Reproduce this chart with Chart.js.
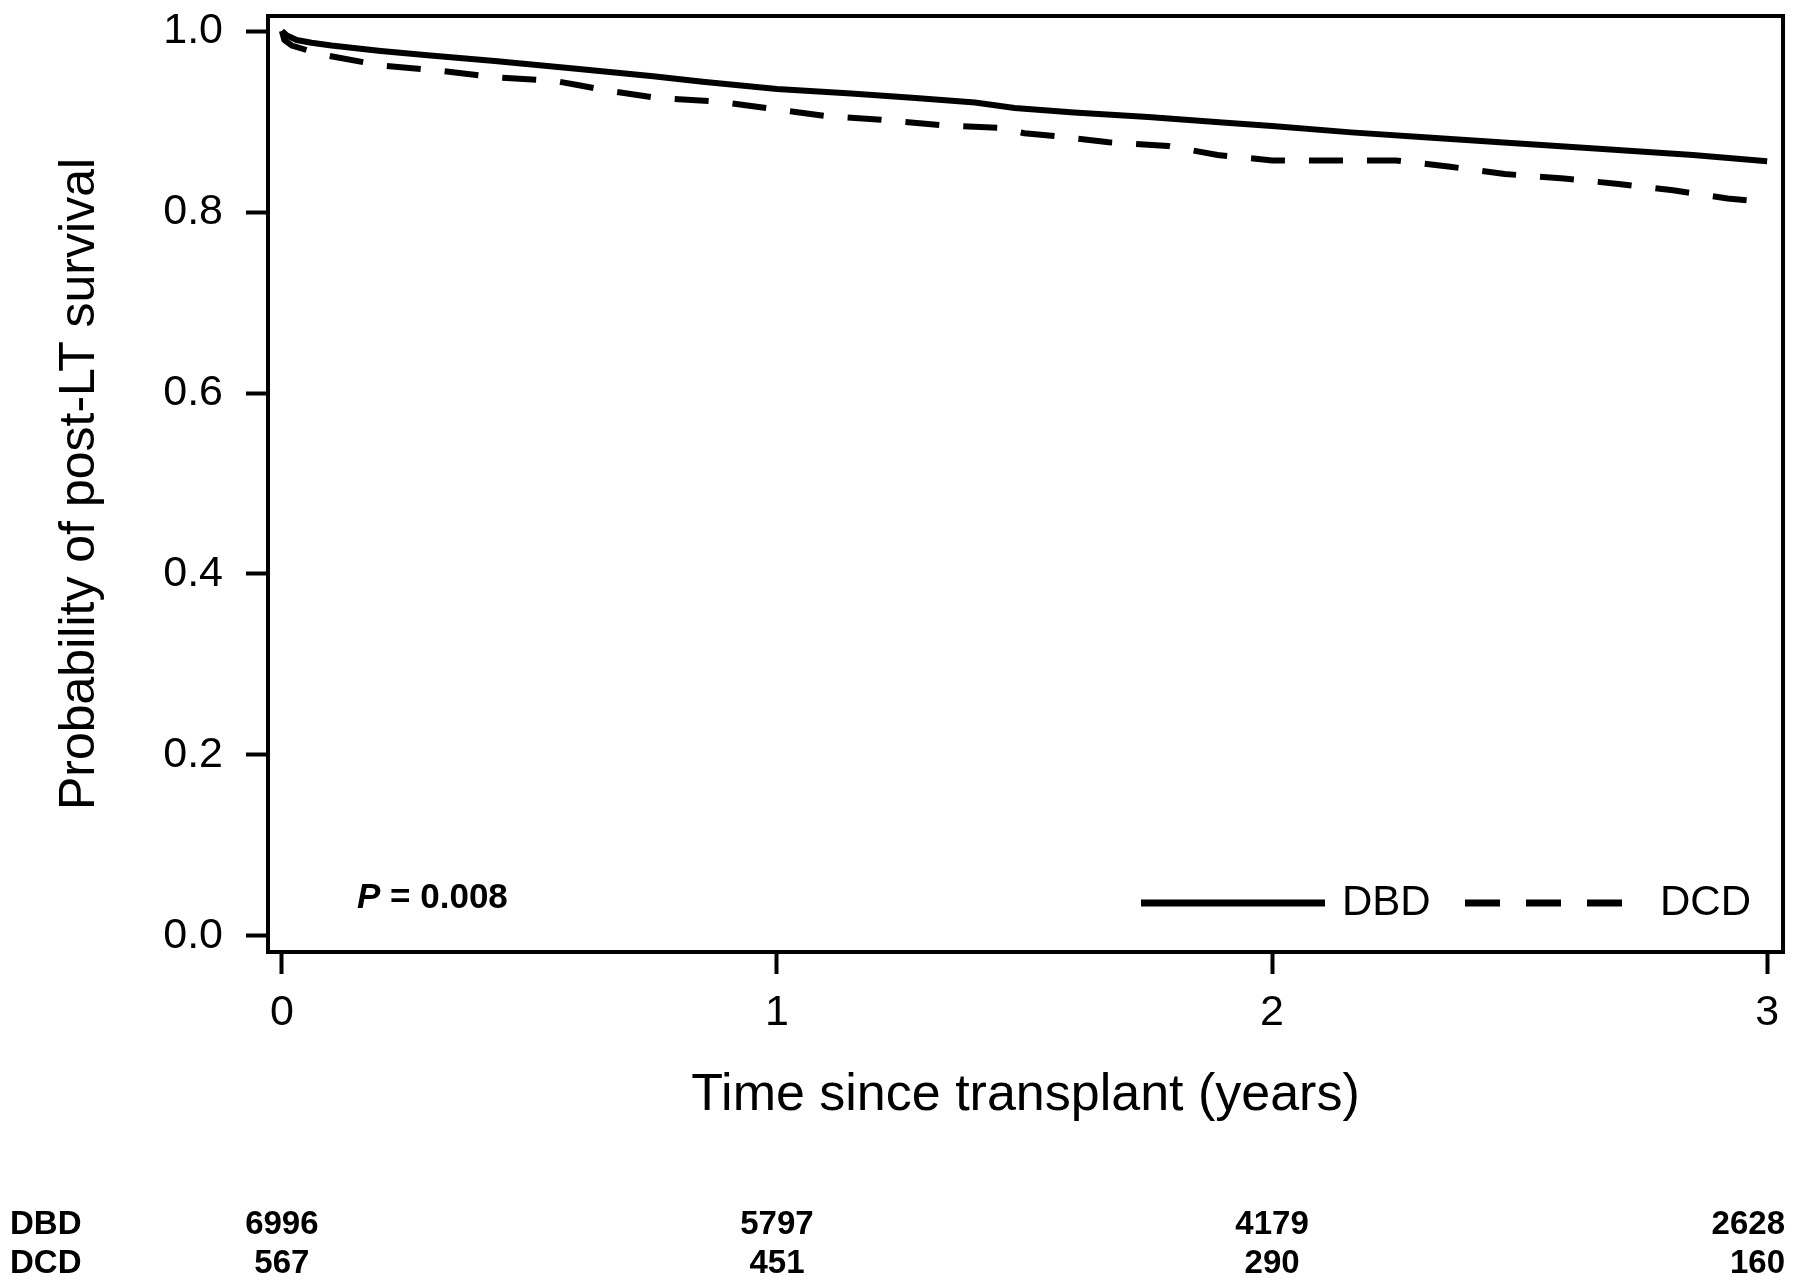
<!DOCTYPE html>
<html>
  <head>
    <meta charset="UTF-8" />
    <title>Post-LT survival DBD vs DCD</title>
    <script src="https://cdn.jsdelivr.net/npm/chart.js"></script>
    <style>
      body {
        margin: 0;
        background: #ffffff;
      }
      #wrap {
        width: 1800px;
        height: 1280px;
      }
    </style>
  </head>
  <body>
    <div id="wrap">
      <canvas id="kmChart" width="1800" height="1280"></canvas>
    </div>

    <script>
      // Kaplan-Meier curves (time in years, survival probability)
      const dbdTime = [0, 0.01, 0.03, 0.06, 0.1, 0.2, 0.3, 0.43, 0.6, 0.75, 0.85, 1.0, 1.15, 1.28, 1.4, 1.48, 1.6, 1.75, 1.9, 2.0, 2.16, 2.3, 2.46, 2.66, 2.85, 3.0];
      const dbdSurv = [1.0, 0.995, 0.99, 0.987, 0.984, 0.978, 0.973, 0.967, 0.958, 0.95, 0.944, 0.936, 0.931, 0.926, 0.921, 0.915, 0.91, 0.905, 0.899, 0.895, 0.888, 0.883, 0.877, 0.87, 0.863, 0.856];

      const dcdTime = [0, 0.005, 0.02, 0.05, 0.09, 0.2, 0.32, 0.43, 0.55, 0.6, 0.66, 0.76, 0.88, 0.99, 1.1, 1.21, 1.33, 1.45, 1.5, 1.56, 1.67, 1.79, 1.89, 2.0, 2.25, 2.36, 2.47, 2.59, 2.7, 2.81, 2.92, 2.98];
      const dcdSurv = [1.0, 0.99, 0.984, 0.979, 0.973, 0.962, 0.956, 0.949, 0.945, 0.94, 0.934, 0.926, 0.922, 0.914, 0.906, 0.902, 0.896, 0.893, 0.887, 0.884, 0.877, 0.873, 0.863, 0.857, 0.857, 0.85, 0.842, 0.837, 0.831, 0.824, 0.815, 0.812];

      // numbers at risk
      const riskTimes = [0, 1, 2, 3];
      const dbdRisk = [6996, 5797, 4179, 2628];
      const dcdRisk = [567, 451, 290, 160];

      const xTicks = [0, 1, 2, 3];
      const yTicks = [0, 0.2, 0.4, 0.6, 0.8, 1.0];

      const FONT = "'Liberation Sans', Arial, Helvetica, sans-serif";

      const toPoints = (t, s) => t.map((v, i) => ({ x: v, y: s[i] }));

      const extras = {
        id: "extras",
        afterDraw(chart) {
          const { ctx, chartArea: a } = chart;
          const x = chart.scales.x;
          ctx.save();

          // box around the plot
          ctx.strokeStyle = "#000";
          ctx.lineWidth = 4;
          ctx.strokeRect(a.left, a.top, a.right - a.left, a.bottom - a.top);

          // p value
          ctx.fillStyle = "#000";
          ctx.textBaseline = "middle";
          ctx.textAlign = "left";
          ctx.font = "italic bold 35px " + FONT;
          ctx.fillText("P", 357, 898);
          const pw = ctx.measureText("P").width;
          ctx.font = "bold 35px " + FONT;
          ctx.fillText(" = 0.008", 357 + pw, 898);

          // legend
          const ly = 903;
          ctx.lineWidth = 7;
          ctx.lineCap = "butt";
          ctx.beginPath();
          ctx.moveTo(1141, ly);
          ctx.lineTo(1325, ly);
          ctx.stroke();
          ctx.setLineDash([35, 26]);
          ctx.beginPath();
          ctx.moveTo(1465, ly);
          ctx.lineTo(1623, ly);
          ctx.stroke();
          ctx.setLineDash([]);
          ctx.font = "42px " + FONT;
          ctx.fillText("DBD", 1342, ly);
          ctx.fillText("DCD", 1660, ly);

          // numbers at risk table
          ctx.font = "bold 33px " + FONT;
          const rows = [["DBD", dbdRisk, 1225], ["DCD", dcdRisk, 1264]];
          rows.forEach(([name, vals, y]) => {
            ctx.textAlign = "left";
            ctx.fillText(name, 10, y);
            ctx.textAlign = "center";
            vals.forEach((v, i) => {
              const s = String(v);
              const w = ctx.measureText(s).width;
              let cx = x.getPixelForValue(riskTimes[i]);
              cx = Math.min(cx, 1785 - w / 2);
              ctx.fillText(s, cx, y);
            });
          });
          ctx.restore();
        }
      };

      const ctx = document.getElementById("kmChart").getContext("2d");
      new Chart(ctx, {
        type: "line",
        data: {
          datasets: [
            {
              label: "DBD",
              data: toPoints(dbdTime, dbdSurv),
              borderColor: "#000",
              borderWidth: 6,
              pointRadius: 0,
              tension: 0,
              fill: false
            },
            {
              label: "DCD",
              data: toPoints(dcdTime, dcdSurv),
              borderColor: "#000",
              borderWidth: 6,
              borderDash: [34, 24],
              borderCapStyle: "butt",
              pointRadius: 0,
              tension: 0,
              fill: false
            }
          ]
        },
        options: {
          responsive: false,
          animation: false,
          devicePixelRatio: 1,
          layout: { padding: { top: 16, right: 17, left: 0, bottom: 0 } },
          plugins: {
            legend: { display: false },
            tooltip: { enabled: false }
          },
          scales: {
            x: {
              type: "linear",
              min: -0.028,
              max: 3.032,
              afterBuildTicks: s => { s.ticks = xTicks.map(v => ({ value: v })); },
              afterFit: s => {
                s.height = 328;
                s.paddingLeft = 0;
                s.paddingRight = 0;
              },
              grid: { drawOnChartArea: false, drawTicks: true, tickLength: 22, tickWidth: 4, tickColor: "#000" },
              border: { display: true, color: "#000", width: 4 },
              ticks: {
                color: "#000",
                padding: 13,
                font: { family: FONT, size: 43 },
                callback: v => String(v)
              },
              title: {
                display: true,
                text: "Time since transplant (years)",
                color: "#000",
                font: { family: FONT, size: 52 },
                padding: { top: 0, bottom: 153 }
              }
            },
            y: {
              min: -0.0177,
              max: 1.0166,
              afterBuildTicks: s => { s.ticks = yTicks.map(v => ({ value: v })); },
              afterFit: s => {
                s.width = 268;
                s.paddingTop = 0;
                s.paddingBottom = 0;
              },
              grid: { drawOnChartArea: false, drawTicks: true, tickLength: 22, tickWidth: 4, tickColor: "#000" },
              border: { display: true, color: "#000", width: 4 },
              ticks: {
                color: "#000",
                padding: 23,
                font: { family: FONT, size: 43 },
                callback: v => v.toFixed(1)
              },
              title: {
                display: true,
                text: "Probability of post-LT survival",
                color: "#000",
                font: { family: FONT, size: 50 },
                padding: { top: 50, bottom: 0 }
              }
            }
          }
        },
        plugins: [extras]
      });
    </script>
  </body>
</html>
